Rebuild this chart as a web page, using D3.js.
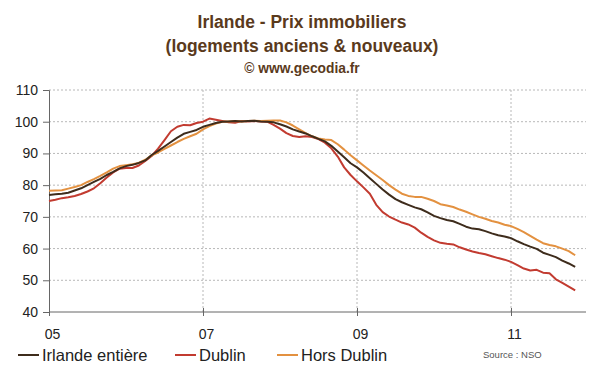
<!DOCTYPE html>
<html>
<head>
<meta charset="utf-8">
<script src="https://cdn.jsdelivr.net/npm/d3@7"></script>
<style>
  body { margin: 0; background: #fff; }
  #chart { width: 600px; height: 372px; }
  text { font-family: "Liberation Sans", Arial, sans-serif; }
</style>
</head>
<body>
<div id="chart"></div>
<script>
// monthly index, Jan 2005 -> Nov 2011 (2007 = 100)
const startYear = 2005
const irlande = [76.9, 77.1, 77.3, 77.6, 78.3, 79.0, 80.0, 81.0, 82.0, 83.2, 84.2, 85.3,
  86.0, 86.4, 87.0, 87.8, 89.5, 90.8, 92.2, 93.6, 95.0, 96.2, 96.8, 97.4,
  98.4, 99.0, 99.6, 100.0, 100.1, 100.2, 100.1, 100.2, 100.3, 100.1, 100.0, 99.8,
  99.2, 98.5, 97.6, 96.9, 96.3, 95.4, 94.6, 93.8, 92.4, 90.6, 88.8, 86.9,
  85.6, 84.0, 82.2, 80.4, 78.6, 77.0, 75.6, 74.6, 73.8, 73.0, 72.4, 71.4,
  70.3, 69.6, 69.0, 68.6, 67.8, 66.9, 66.3, 66.1, 65.5, 64.8, 64.2, 63.8,
  63.3, 62.3, 61.4, 60.6, 59.9, 58.7, 58.0, 57.3, 56.2, 55.3, 54.2]
const dublin = [75.0, 75.4, 75.9, 76.2, 76.6, 77.2, 78.0, 79.0, 80.6, 82.4, 84.0, 85.2,
  85.4, 85.4, 86.2, 87.6, 89.2, 91.5, 94.2, 97.0, 98.4, 99.0, 98.9, 99.6,
  100.0, 101.0, 100.6, 100.2, 99.8, 99.7, 100.2, 100.1, 100.2, 100.1, 100.0, 99.0,
  97.8, 96.4, 95.5, 95.2, 95.4, 95.2, 94.5, 93.4, 91.6, 89.0, 85.6, 83.2,
  81.2, 79.3, 77.3, 73.8, 71.5, 70.1, 69.1, 68.2, 67.6, 66.6, 65.0, 63.7,
  62.6, 61.8, 61.5, 61.3, 60.4, 59.7, 59.1, 58.6, 58.2, 57.6, 57.0, 56.5,
  55.8, 54.8, 53.7, 53.1, 53.3, 52.4, 52.2, 50.3, 49.2, 48.0, 46.8]
const horsDublin = [78.2, 78.3, 78.4, 78.9, 79.4, 80.0, 81.0, 81.9, 82.9, 84.0, 85.2, 86.0,
  86.3, 86.6, 87.0, 88.0, 89.4, 90.3, 91.4, 92.5, 93.6, 94.6, 95.4, 96.2,
  97.6, 98.6, 99.4, 100.0, 100.1, 100.2, 100.1, 100.2, 100.3, 100.2, 100.3, 100.4,
  100.4, 99.8, 98.8, 97.6, 96.4, 95.4, 94.7, 94.4, 94.2, 92.9, 91.2, 89.4,
  87.8, 86.2, 84.6, 83.1, 81.6, 80.0, 78.6, 77.3, 76.6, 76.3, 76.3, 75.7,
  75.0, 74.0, 73.6, 73.1, 72.3, 71.6, 70.8, 70.0, 69.4, 68.7, 68.2, 67.5,
  67.1, 66.2, 65.2, 64.0, 62.8, 61.7, 61.1, 60.7, 60.0, 59.2, 57.9]

const seriesNames = ["Irlande entière", "Dublin", "Hors Dublin"]
const seriesColors = ["#3e2c1c", "#c23b30", "#e39140"]
const xTicks = [2005, 2007, 2009, 2011]
const yTicks = [40, 50, 60, 70, 80, 90, 100, 110]

const width = 600, height = 372
const margin = {top: 90, right: 14, bottom: 60, left: 49}

const svg = d3.select("#chart")
  .append("svg")
  .attr("width", width)
  .attr("height", height)

// title (slightly condensed like the original)
const title = svg.append("g").attr("fill", "#5a3a1c").attr("font-weight", "bold").attr("text-anchor", "middle")
  .attr("transform", "translate(302,0) scale(0.92,1)")
title.append("text").attr("x", 0).attr("y", 28).attr("font-size", 19).text("Irlande - Prix immobiliers")
title.append("text").attr("x", 0).attr("y", 52).attr("font-size", 19).text("(logements anciens & nouveaux)")
title.append("text").attr("x", 0).attr("y", 73).attr("font-size", 15).text("© www.gecodia.fr")

const xScale = d3.scaleLinear()
  .domain([0, 7 * 12])
  .range([margin.left, 49 + 7 * 77])

const yScale = d3.scaleLinear()
  .domain([40, 110])
  .range([312, margin.top])

// grid
svg.append("g")
  .selectAll("line")
  .data(yTicks.slice(1))
  .join("line")
  .attr("x1", margin.left).attr("x2", 586)
  .attr("y1", d => yScale(d)).attr("y2", d => yScale(d))
  .attr("stroke", "#b8b8b8")
  .attr("stroke-dasharray", "2,2")

svg.append("g")
  .selectAll("line")
  .data(xTicks.slice(1))
  .join("line")
  .attr("x1", d => xScale((d - startYear) * 12)).attr("x2", d => xScale((d - startYear) * 12))
  .attr("y1", yScale(110)).attr("y2", yScale(40))
  .attr("stroke", "#b8b8b8")
  .attr("stroke-dasharray", "2,2")

// axes
const yAxis = svg.append("g")
  .attr("transform", `translate(${margin.left},0)`)
  .call(d3.axisLeft(yScale).tickValues(yTicks).tickSize(6).tickPadding(5))
yAxis.select(".domain").attr("stroke", "#666")
yAxis.selectAll(".tick line").attr("stroke", "#666").attr("x2", 0).attr("x1", -6)
yAxis.selectAll("text").attr("font-size", 14).attr("fill", "#222")
  .attr("font-family", "Liberation Sans, Arial, sans-serif")

const xAxis = svg.append("g")
  .attr("transform", `translate(0,${yScale(40)})`)
  .call(d3.axisBottom(xScale)
    .tickValues(xTicks.map(d => (d - startYear) * 12))
    .tickFormat((d, i) => String(xTicks[i]).slice(2))
    .tickSizeOuter(0).tickSize(4).tickPadding(13))
xAxis.select(".domain").attr("stroke", "#666").attr("d", `M${margin.left},0H586`)
xAxis.selectAll(".tick line").attr("stroke", "#666").attr("y1", -4).attr("y2", 4)
xAxis.selectAll("text").attr("font-size", 14).attr("fill", "#222").attr("dx", 3)
  .attr("font-family", "Liberation Sans, Arial, sans-serif")

// lines
const line = d3.line()
  .x((d, i) => xScale(i))
  .y(d => yScale(d))

const allSeries = [irlande, dublin, horsDublin]
svg.append("g")
  .selectAll("path")
  .data([1, 2, 0])
  .join("path")
  .attr("d", i => line(allSeries[i]))
  .attr("fill", "none")
  .attr("stroke", i => seriesColors[i])
  .attr("stroke-width", 2)
  .attr("stroke-linejoin", "round")

// legend
const legendX = [18, 175, 277]
const legend = svg.append("g")
  .selectAll("g")
  .data(seriesNames)
  .join("g")
  .attr("transform", (d, i) => `translate(${legendX[i]},355)`)
legend.append("line")
  .attr("x1", 0).attr("x2", 21)
  .attr("stroke", (d, i) => seriesColors[i])
  .attr("stroke-width", 2)
legend.append("text")
  .attr("x", 24).attr("y", 6)
  .attr("font-size", 16.5)
  .attr("fill", "#222")
  .text(d => d)

svg.append("text")
  .attr("x", 483).attr("y", 358)
  .attr("font-size", 9.5)
  .attr("fill", "#555")
  .text("Source : NSO")
</script>
</body>
</html>
